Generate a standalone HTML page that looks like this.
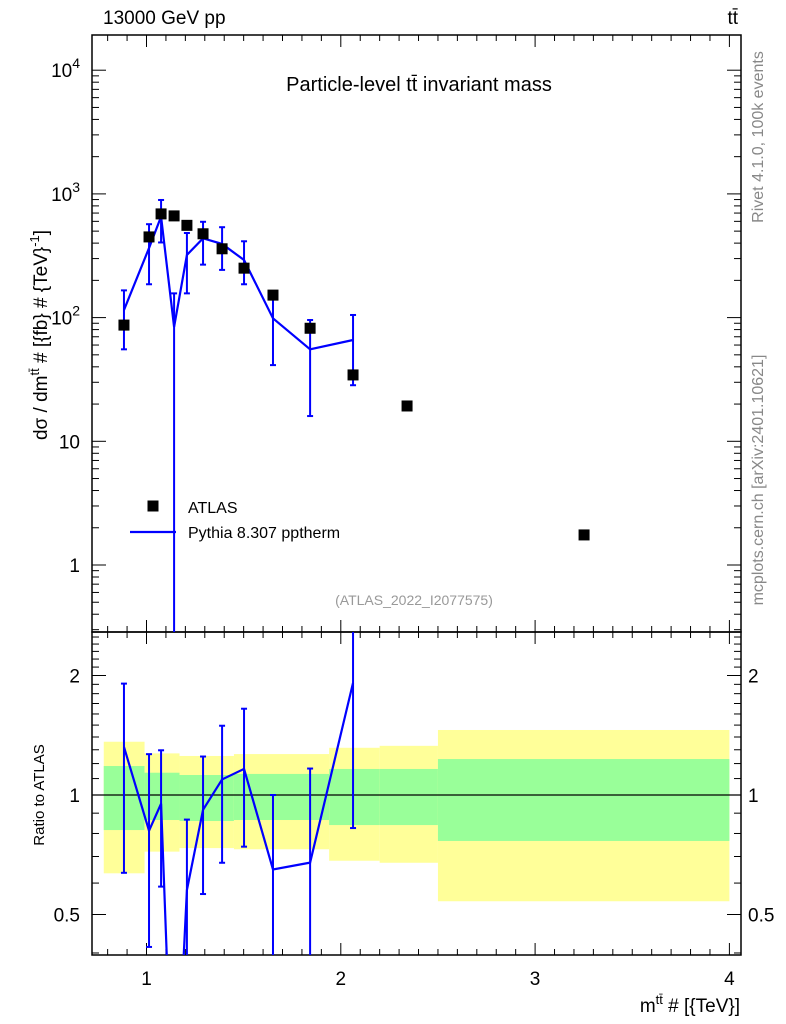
<!DOCTYPE html>
<html><head><meta charset="utf-8"><style>
html,body{margin:0;background:#fff;width:786px;height:1024px;overflow:hidden;position:relative;}
svg{display:block;font-family:"Liberation Sans",sans-serif;}
</style></head><body>
<svg id="c" width="786" height="1024" viewBox="0 0 786 1024" style="position:absolute;left:0;top:0"></svg>
<script>
const dataX=[0.884,1.013,1.075,1.142,1.208,1.291,1.389,1.502,1.651,1.842,2.063,2.341,3.252];
const dataY=[87,449,689,664,557,476,360,251,152,82,34.4,19.3,1.75];
const mcX=[0.884,1.013,1.075,1.142,1.208,1.291,1.389,1.502,1.651,1.842,2.063];
const mcY=[115,365,655,84,321,437,394,292,98.7,55.4,65.9];
const mcUp=[166,569,893,157,483,595,538,414,152,95.6,105];
const mcDn=[55.4,186,405,0.01,157,268,243,186,41.3,16,28.4];
const binEdges=[0.78,0.99,1.17,1.45,1.94,2.2,2.5,4.0];
const yelTop=[1.362,1.273,1.254,1.268,1.315,1.33,1.458];
const yelBot=[0.635,0.72,0.735,0.73,0.683,0.675,0.54];
const grnTop=[1.183,1.138,1.123,1.13,1.163,1.163,1.232];
const grnBot=[0.816,0.865,0.86,0.865,0.84,0.84,0.766];
const xTicks=[1,2,3,4];

const NS="http://www.w3.org/2000/svg";
const svg=document.getElementById('c');
const L=92,R=741,T1=35,B1=632,T2=632,B2=955;
const X=v=>146.5+(v-1)*194.3;
const Y1=v=>565-Math.log10(v)*123.7;
const Y2=v=>795-Math.log10(v)*397;
function el(tag,attrs,parent){const e=document.createElementNS(NS,tag);for(const k in attrs)e.setAttribute(k,attrs[k]);(parent||svg).appendChild(e);return e;}
function txt(s,x,y,attrs){const e=el('text',Object.assign({x:x,y:y},attrs||{}));e.textContent=s;return e;}
const clip1=el('clipPath',{id:'cp1'});el('rect',{x:L,y:T1,width:R-L,height:B1-T1},clip1);
const clip2=el('clipPath',{id:'cp2'});el('rect',{x:L,y:T2,width:R-L,height:B2-T2},clip2);

const gB=el('g',{'clip-path':'url(#cp2)'});


for(let i=0;i<yelTop.length;i++){
  const x0=X(binEdges[i]),x1=X(binEdges[i+1]);
  const y=el('rect',{x:x0,y:Y2(yelTop[i]),width:x1-x0,height:Y2(yelBot[i])-Y2(yelTop[i]),fill:'#ffff99'},gB);
  
  
  const g=el('rect',{x:x0,y:Y2(grnTop[i]),width:x1-x0,height:Y2(grnBot[i])-Y2(grnTop[i]),fill:'#99ff99'},gB);
  
  
}
el('line',{x1:L,x2:R,y1:Y2(1),y2:Y2(1),stroke:'#000','stroke-width':1.2});

el('rect',{x:L,y:T1,width:R-L,height:B1-T1,fill:'none',stroke:'#000','stroke-width':1.5});
el('rect',{x:L,y:T2,width:R-L,height:B2-T2,fill:'none',stroke:'#000','stroke-width':1.5});

for(let v=0.8;v<=4.05;v+=0.1){
  const major=Math.abs(v-Math.round(v))<1e-6, x=X(v), len=major?12:6;
  if(x<L||x>R)continue;
  [[B1,-1],[T1,1],[B2,-1],[T2,1]].forEach(([yy,d])=>el('line',{x1:x,x2:x,y1:yy,y2:yy+d*len,stroke:'#000','stroke-width':1}));
}
xTicks.forEach(v=>{const t=txt(String(v),X(v),985,{'font-size':19,'text-anchor':'middle'});

});

for(let d=-1;d<=4;d++){for(let m=1;m<=9;m++){const v=m*Math.pow(10,d),y=Y1(v);if(y<T1||y>B1)continue;const len=m==1?14:7;
el('line',{x1:L,x2:L+len,y1:y,y2:y,stroke:'#000'});el('line',{x1:R,x2:R-len,y1:y,y2:y,stroke:'#000'});}}
const ytl=[['1',1],['10',10]];
ytl.forEach(([s,v])=>{const t=txt(s,80,Y1(v)+7,{'font-size':19,'text-anchor':'end'});});
[[2,100],[3,1000],[4,10000]].forEach(([p,v])=>{const t=el('text',{x:80,y:Y1(v)+7,'font-size':19,'text-anchor':'end'});

t.innerHTML='10<tspan dy="-9" font-size="14">'+p+'</tspan>';});

for(let v=0.4;v<=2.6;v+=0.1){const y=Y2(v);if(y<T2||y>B2)continue;const maj=[0.5,1,2].some(a=>Math.abs(a-v)<1e-6);const len=maj?14:7;
el('line',{x1:L,x2:L+len,y1:y,y2:y,stroke:'#000'});el('line',{x1:R,x2:R-len,y1:y,y2:y,stroke:'#000'});}
[['2',2],['1',1],['0.5',0.5]].forEach(([s,v])=>{
 const a=txt(s,80,Y2(v)+7,{'font-size':19,'text-anchor':'end'});
 const b=txt(s,748,Y2(v)+7,{'font-size':19});});

const g1=el('g',{'clip-path':'url(#cp1)'});
const mcLine=el('polyline',{points:mcX.map((x,i)=>X(x)+','+Y1(mcY[i])).join(' '),fill:'none',stroke:'#0000ff','stroke-width':2.2},g1);


mcX.forEach((x,i)=>{const px=X(x);
 const e=el('line',{x1:px,x2:px,y1:Y1(mcUp[i]),y2:Math.min(Y1(mcDn[i]),B1+5),stroke:'#0000ff','stroke-width':2},g1);
 
 
 el('line',{x1:px-3,x2:px+3,y1:Y1(mcUp[i]),y2:Y1(mcUp[i]),stroke:'#0000ff','stroke-width':2},g1);
 el('line',{x1:px-3,x2:px+3,y1:Y1(mcDn[i]),y2:Y1(mcDn[i]),stroke:'#0000ff','stroke-width':2},g1);
});
dataX.forEach((x,i)=>{const r=el('rect',{x:X(x)-5.5,y:Y1(dataY[i])-5.5,width:11,height:11,fill:'#000'},g1);
 
 });

const g2=el('g',{'clip-path':'url(#cp2)'});
const rl=el('polyline',{points:mcX.map((x,i)=>X(x)+','+Y2(mcY[i]/dataY[i])).join(' '),fill:'none',stroke:'#0000ff','stroke-width':2.2},g2);


mcX.forEach((x,i)=>{const px=X(x);
 const lo=Math.max(mcDn[i]/dataY[i],0.01),hi=mcUp[i]/dataY[i];
 const e=el('line',{x1:px,x2:px,y1:Y2(hi),y2:Y2(lo),stroke:'#0000ff','stroke-width':2},g2);
 
 
 el('line',{x1:px-3,x2:px+3,y1:Y2(hi),y2:Y2(hi),stroke:'#0000ff','stroke-width':2},g2);
 el('line',{x1:px-3,x2:px+3,y1:Y2(lo),y2:Y2(lo),stroke:'#0000ff','stroke-width':2},g2);
});
</script>
<svg style="position:absolute;left:0;top:0" width="786" height="1024">
<g font-family="Liberation Sans, sans-serif">
<text x="103" y="24" font-size="19">13000 GeV pp</text>
<text x="738" y="24" font-size="19" text-anchor="end">tt̄</text>
<text x="419" y="91" font-size="20" text-anchor="middle">Particle-level tt̄ invariant mass</text>
<text x="414" y="605" font-size="14" fill="#999" text-anchor="middle">(ATLAS_2022_I2077575)</text>
<rect x="147.5" y="500.5" width="11" height="11" fill="#000"/>
<text x="188" y="513" font-size="16">ATLAS</text>
<line x1="130" x2="176" y1="532" y2="532" stroke="#0000ff" stroke-width="2.2"/>
<text x="188" y="538" font-size="16">Pythia 8.307 pptherm</text>
<text transform="translate(47,335) rotate(-90)" font-size="19" text-anchor="middle">dσ / dm<tspan dy="-8" font-size="13">tt̄</tspan><tspan dy="8"> # [{fb} # {TeV}</tspan><tspan dy="-8" font-size="13">-1</tspan><tspan dy="8">]</tspan></text>
<text transform="translate(44,795) rotate(-90)" font-size="15" text-anchor="middle">Ratio to ATLAS</text>
<text x="740" y="1012" font-size="19" text-anchor="end">m<tspan dy="-8" font-size="13">tt̄</tspan><tspan dy="8"> # [{TeV}]</tspan></text>
<text transform="translate(763,137) rotate(-90)" font-size="16" fill="#888" text-anchor="middle">Rivet 4.1.0,  100k events</text>
<text transform="translate(763,480) rotate(-90)" font-size="16" fill="#888" text-anchor="middle">mcplots.cern.ch [arXiv:2401.10621]</text>
</g></svg>
</body></html>
